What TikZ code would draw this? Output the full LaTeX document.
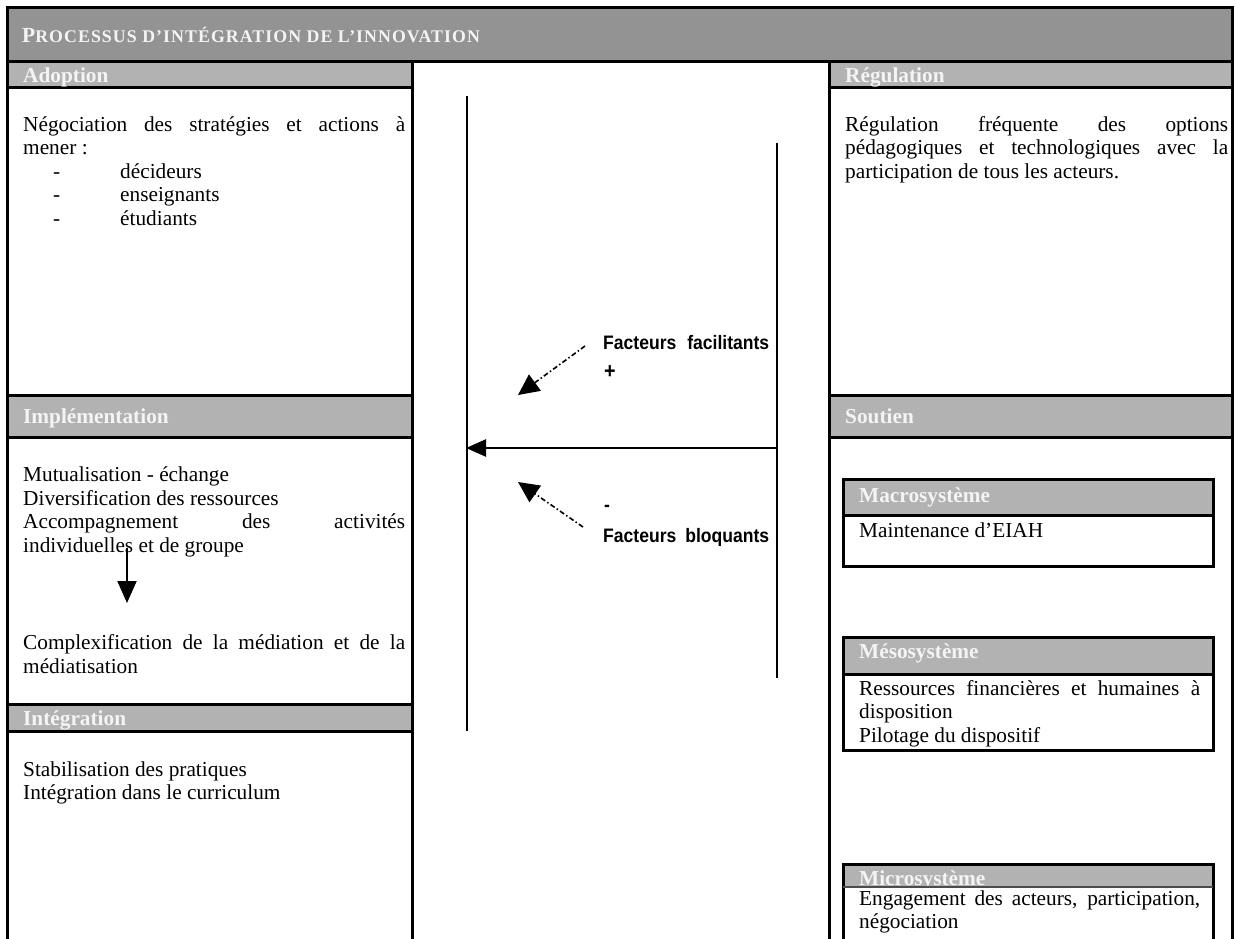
\documentclass[tikz,border=0pt]{standalone}
\usepackage{fontspec}
\setmainfont{Liberation Serif}
\newfontfamily\narrowsans[FakeStretch=0.9]{Liberation Sans}
\newfontfamily\titlefont[LetterSpace=6]{Liberation Serif}
\usetikzlibrary{arrows.meta}
\definecolor{titlegray}{HTML}{939393}
\definecolor{headgray}{HTML}{B2B2B2}
\definecolor{headtext}{HTML}{F4F4F4}
\tikzset{
  frame/.style={line width=3pt, draw=black, line cap=rect},
  bodytxt/.style={anchor=base west, inner sep=0pt, font=\fontsize{21.3}{23.5}\selectfont},
  headtxt/.style={anchor=base west, inner sep=0pt, text=headtext, font=\bfseries\fontsize{21.3}{23.5}\selectfont},
  titletxt/.style={anchor=base west, inner sep=0pt, text=headtext, font=\titlefont\bfseries},
  factxt/.style={anchor=base west, inner sep=0pt, font=\narrowsans\bfseries\fontsize{19.5}{22}\selectfont},
  midline/.style={line width=2.5pt},
  dotarrow/.style={line width=1.6pt, dash pattern=on 5pt off 2.5pt on 1.5pt off 2.5pt, -{Triangle[length=21pt,width=20pt]}},
}
\newcommand{\jline}[2]{\makebox[#1][s]{#2}}
\newcommand{\bigc}[1]{{\fontsize{21.5}{22}\selectfont #1}}
\newcommand{\smc}[1]{{\fontsize{17.8}{22}\selectfont #1}}
\begin{document}
\begin{tikzpicture}[x=1pt,y=-1pt]
\useasboundingbox (0,0) rectangle (1236,938);
% fills
\fill[titlegray] (7,7) rectangle (1232,61);
\fill[headgray] (7,61) rectangle (412,87);
\fill[headgray] (7,395) rectangle (412,437);
\fill[headgray] (7,704) rectangle (412,731);
\fill[headgray] (829,61) rectangle (1232,87);
\fill[headgray] (829,395) rectangle (1232,437);
% frame lines
\draw[frame] (7,938) -- (7,7) -- (1232,7) -- (1232,938);
\draw[frame] (7,61) -- (1232,61);
\draw[frame] (412,61) -- (412,938);
\draw[frame] (829,61) -- (829,938);
\draw[frame] (7,87) -- (412,87);
\draw[frame] (7,395) -- (412,395);
\draw[frame] (7,437) -- (412,437);
\draw[frame] (7,704) -- (412,704);
\draw[frame] (7,731) -- (412,731);
\draw[frame] (829,87) -- (1232,87);
\draw[frame] (829,395) -- (1232,395);
\draw[frame] (829,437) -- (1232,437);
% sub boxes
\fill[headgray] (843,479) rectangle (1213,515);
\draw[frame] (843,479) rectangle (1213,566);
\draw[frame] (843,515) -- (1213,515);
\fill[headgray] (843,637) rectangle (1213,674);
\draw[frame] (843,637) rectangle (1213,750);
\draw[frame] (843,674) -- (1213,674);
\fill[headgray] (843,864) rectangle (1213,886);
\begin{scope}
  \clip (843,864) rectangle (1213,886);
  \node[headtxt] (hmicro) at (859,885) {Microsystème};
\end{scope}
\draw[frame] (843,938) -- (843,864) -- (1213,864) -- (1213,938);
\draw[line width=1.5pt, draw=black!70] (843,887) -- (1213,887);
% title
\node[titletxt] (title) at (22,42) {\bigc{P}\smc{ROCESSUS D’INTÉGRATION DE L’INNOVATION}};
% headers
\node[headtxt] (hadopt) at (23,82) {Adoption};
\node[headtxt] (hregul) at (845,82) {Régulation};
\node[headtxt] (himpl) at (23,423) {Implémentation};
\node[headtxt] (hsout) at (845,423) {Soutien};
\node[headtxt] (hinteg) at (23,725) {Intégration};
\node[headtxt] (hmacro) at (859,502) {Macrosystème};
\node[headtxt] (hmeso) at (859,658) {Mésosystème};
% Adoption body
\node[bodytxt] (a1) at (23,131) {\jline{382pt}{Négociation des stratégies et actions à}};
\node[bodytxt] (a2) at (23,154.5) {mener :};
\node[bodytxt] (d1) at (53,178) {-};
\node[bodytxt] (a3) at (120,178) {décideurs};
\node[bodytxt] (d2) at (53,201.5) {-};
\node[bodytxt] (a4) at (120,201.5) {enseignants};
\node[bodytxt] (d3) at (53,225) {-};
\node[bodytxt] (a5) at (120,225) {étudiants};
% Implementation body
\node[bodytxt] (i1) at (23,481) {Mutualisation - échange};
\node[bodytxt] (i2) at (23,505) {Diversification des ressources};
\node[bodytxt] (i3) at (23,528.5) {\jline{382pt}{Accompagnement des activités}};
\node[bodytxt] (i4) at (23,552) {individuelles et de groupe};
\node[bodytxt] (i5) at (23,649) {\jline{382pt}{Complexification de la médiation et de la}};
\node[bodytxt] (i6) at (23,673) {médiatisation};
\coordinate (ia) at (127,548);
\coordinate (ib) at (127,603);
\draw[line width=2pt, -{Triangle[length=22pt,width=19pt]}] (ia) -- (ib);
% Integration body
\node[bodytxt] (g1) at (23,776) {Stabilisation des pratiques};
\node[bodytxt] (g2) at (23,799) {Intégration dans le curriculum};
% Regulation body
\node[bodytxt] (r1) at (845,131) {\jline{383pt}{Régulation fréquente des options}};
\node[bodytxt] (r2) at (845,154.5) {\jline{383pt}{pédagogiques et technologiques avec la}};
\node[bodytxt] (r3) at (845,178) {participation de tous les acteurs.};
% Sub box bodies
\node[bodytxt] (m1) at (859,537) {Maintenance d’EIAH};
\node[bodytxt] (s1) at (859,695) {\jline{341pt}{Ressources financières et humaines à}};
\node[bodytxt] (s2) at (859,718) {disposition};
\node[bodytxt] (s3) at (859,742) {Pilotage du dispositif};
\node[bodytxt] (u1) at (859,905) {\jline{341pt}{Engagement des acteurs, participation,}};
\node[bodytxt] (u2) at (859,928) {négociation};
% middle
\coordinate (l1t) at (467,96);
\coordinate (l1b) at (467,731);
\coordinate (l2t) at (777,143);
\coordinate (l2b) at (777,678);
\coordinate (hs) at (777,448);
\coordinate (he) at (466,448);
\draw[midline] (l1t) -- (l1b);
\draw[midline] (l2t) -- (l2b);
\draw[midline, -{Triangle[length=20pt,width=17pt]}] (hs) -- (he);
\node[factxt] (ff) at (603,349) {\jline{166pt}{Facteurs facilitants}};
\node[factxt, anchor=center, font=\narrowsans\bfseries\fontsize{22}{22}\selectfont] (plus) at (610,372) {+};
\node[factxt, anchor=center] (minus) at (607,508) {-};
\node[factxt] (fb) at (603,542) {\jline{166pt}{Facteurs bloquants}};
\coordinate (p1s) at (585,346);
\coordinate (p1e) at (518,395);
\coordinate (p2s) at (583,527);
\coordinate (p2e) at (518,482);
\draw[dotarrow] (p1s) -- (p1e);
\draw[dotarrow] (p2s) -- (p2e);
\end{tikzpicture}
\end{document}
